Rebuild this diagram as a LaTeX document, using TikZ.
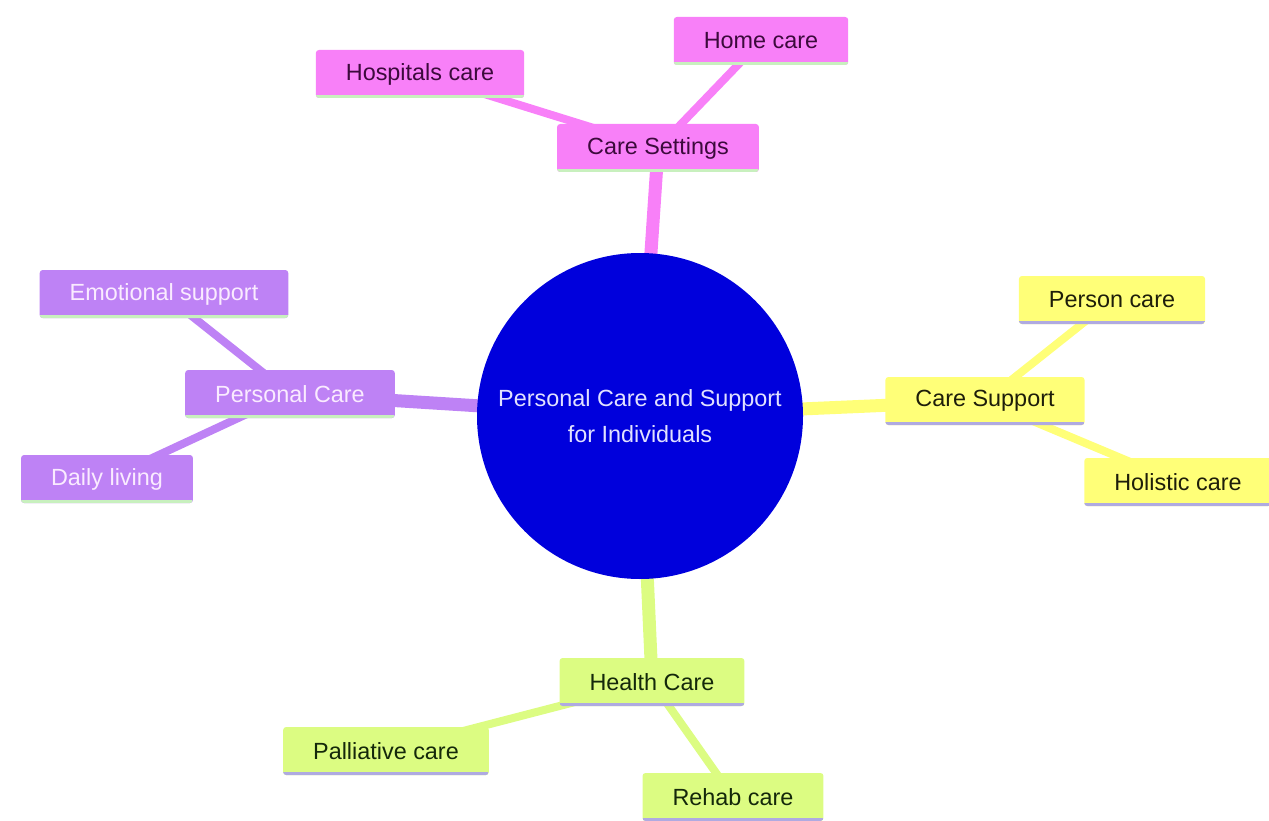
\documentclass[tikz,border=0pt]{standalone}
\usepackage{fontspec}
\setmainfont{Liberation Sans}
\usetikzlibrary{backgrounds}
\definecolor{rootblue}{RGB}{0,0,220}
\definecolor{rootink}{RGB}{225,225,255}
\definecolor{pinkfill}{RGB}{248,128,248}
\definecolor{pinkink}{RGB}{60,10,60}
\definecolor{lilacfill}{RGB}{190,130,245}
\definecolor{lilacink}{RGB}{250,235,255}
\definecolor{lemonfill}{RGB}{255,255,120}
\definecolor{lemonink}{RGB}{30,30,10}
\definecolor{limefill}{RGB}{220,252,130}
\definecolor{limeink}{RGB}{20,40,10}
\definecolor{greenrule}{RGB}{200,240,190}
\definecolor{bluerule}{RGB}{175,170,225}
\tikzset{
  box/.style 2 args={
    rectangle, rounded corners=3, fill=#1, minimum height=48, inner xsep=30,
    font=\fontsize{23.4}{28}\selectfont,
    path picture={\draw[line width=6,#2]
      (path picture bounding box.south west) -- (path picture bounding box.south east);}
  },
  settings/.style={box={pinkfill}{greenrule}, text=pinkink},
  personal/.style={box={lilacfill}{greenrule}, text=lilacink},
  support/.style={box={lemonfill}{bluerule}, text=lemonink},
  health/.style={box={limefill}{bluerule}, text=limeink},
  root/.style={circle, fill=rootblue, text=rootink, minimum size=326, inner sep=0,
    align=center, font=\fontsize{23.4}{36}\selectfont},
  trunk/.style={line width=13, line cap=butt},
  twig/.style={line width=8, line cap=butt}
}

\begin{document}
\begin{tikzpicture}[x=1pt,y=-1pt]
  \useasboundingbox (0,0) rectangle (1269,821);
  % centre
  \node[root] (centre) at (640,416) {Personal Care and Support\\for Individuals};
  % care settings
  \node[settings] (settings) at (658,148) {Care Settings};
  \node[settings] (hospital) at (420,74) {Hospitals care};
  \node[settings] (home) at (761,41) {Home care};
  % personal care
  \node[personal] (personal) at (290,394) {Personal Care};
  \node[personal] (emotional) at (164,294) {Emotional support};
  \node[personal] (daily) at (107,479) {Daily living};
  % care support
  \node[support] (support) at (985,401) {Care Support};
  \node[support] (person) at (1112,300) {Person care};
  \node[support] (holistic) at (1178,482) {Holistic care};
  % health care
  \node[health] (health) at (652,682) {Health Care};
  \node[health] (palliative) at (386,751) {Palliative care};
  \node[health] (rehab) at (733,797) {Rehab care};
  % connectors
  \begin{scope}[on background layer]
    \draw[trunk,pinkfill] (centre.center) -- (settings.center);
    \draw[twig,pinkfill] (settings.center) -- (hospital.center);
    \draw[twig,pinkfill] (settings.center) -- (home.center);
    \draw[trunk,lilacfill] (centre.center) -- (personal.center);
    \draw[twig,lilacfill] (personal.center) -- (emotional.center);
    \draw[twig,lilacfill] (personal.center) -- (daily.center);
    \draw[trunk,lemonfill] (centre.center) -- (support.center);
    \draw[twig,lemonfill] (support.center) -- (person.center);
    \draw[twig,lemonfill] (support.center) -- (holistic.center);
    \draw[trunk,limefill] (centre.center) -- (health.center);
    \draw[twig,limefill] (health.center) -- (palliative.center);
    \draw[twig,limefill] (health.center) -- (rehab.center);
  \end{scope}
\end{tikzpicture}
\end{document}
